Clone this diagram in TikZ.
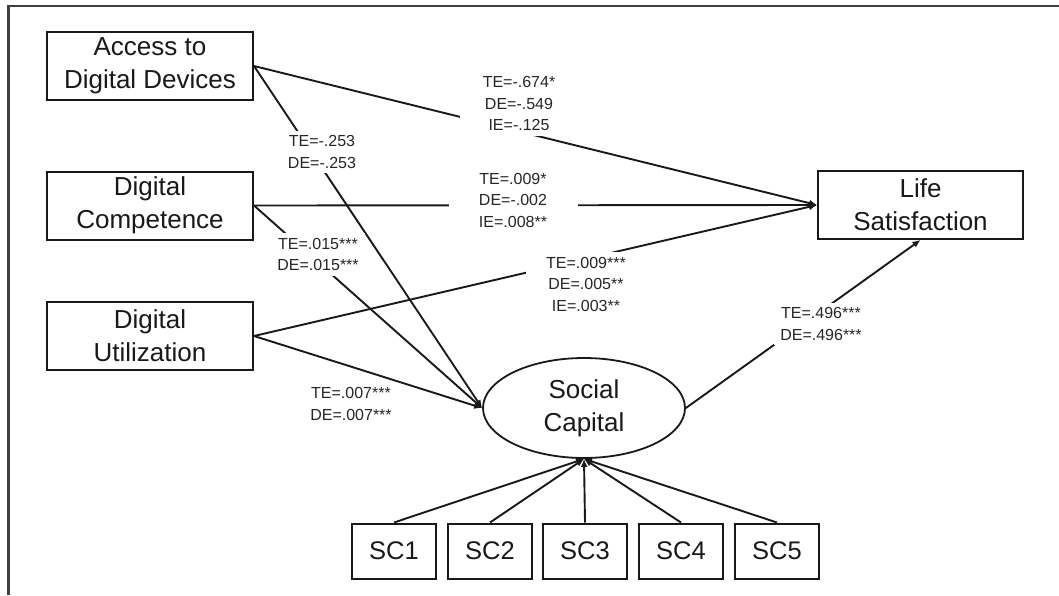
\documentclass[tikz,border=0pt]{standalone}
\usepackage{fontspec}
\setmainfont{Liberation Sans}
\usetikzlibrary{shapes.geometric,arrows.meta}
\begin{document}
\begin{tikzpicture}[x=1pt,y=-1pt,
  box/.style={draw=black!90, line width=2pt, minimum width=206pt, minimum height=68pt,
    inner sep=0pt, align=center, font=\fontsize{26}{33}\selectfont, text=black!90},
  scbox/.style={draw=black!90, line width=2pt, minimum width=84pt, minimum height=55pt,
    inner sep=0pt, font=\fontsize{25.5}{30}\selectfont, text=black!90},
  latent/.style={draw=black!90, line width=1.8pt, ellipse, minimum width=202pt, minimum height=100pt,
    inner sep=0pt, align=center, font=\fontsize{26}{33}\selectfont, text=black!90},
  lab/.style={fill=white, align=center, font=\fontsize{16}{21.5}\selectfont, text=black!85,
    inner xsep=6pt, inner ysep=5pt},
  arr/.style={line width=1.9pt, draw=black!90, -{Latex[length=8pt,width=7pt]}},
  frame/.style={line width=2.2pt, draw=black!75}
]
\useasboundingbox (0,0) rectangle (1059,595);
\draw[frame] (8.5,595) -- (8.5,6) -- (1059,6);

% nodes
\node[box] (acc) at (150,66) {Access to\\Digital Devices};
\node[box] (comp) at (150,205.5) {Digital\\Competence};
\node[box] (util) at (150,336) {Digital\\Utilization};
\node[box, minimum width=205pt] (ls) at (920.5,205) {Life\\Satisfaction};
\node[latent] (sc) at (584,408) {Social\\Capital};
\node[scbox] (sc1) at (394,551) {SC1};
\node[scbox] (sc2) at (490,551) {SC2};
\node[scbox] (sc3) at (585,551) {SC3};
\node[scbox] (sc4) at (681,551) {SC4};
\node[scbox] (sc5) at (777,551) {SC5};

% connectors
\draw[arr] (acc.east) -- (ls.west);
\draw[arr] (comp.east) -- (ls.west);
\draw[arr] (util.east) -- (ls.west);
\draw[arr] (acc.east) -- (sc.west);
\draw[arr] (comp.east) -- (sc.west);
\draw[arr] (util.east) -- (sc.west);
\draw[arr] (sc.east) -- (ls.south);
\foreach \s in {sc1,sc2,sc3,sc4,sc5}
  \draw[arr] (\s.north) -- (sc.south);

% labels
\node[lab, minimum width=118pt] (l1) at (519,103.5) {TE=-.674*\\DE=-.549\\IE=-.125};
\node[lab] (l2) at (322,152) {TE=-.253\\DE=-.253};
\node[lab, minimum width=129pt] (l3) at (513,200) {TE=.009*\\DE=-.002\\IE=.008**};
\node[lab] (l4) at (318,254.5) {TE=.015***\\DE=.015***};
\node[lab, minimum width=121pt] (l5) at (586,284) {TE=.009***\\DE=.005**\\IE=.003**};
\node[lab] (l6) at (351,404) {TE=.007***\\DE=.007***};
\node[lab] (l7) at (821,324) {TE=.496***\\DE=.496***};
\end{tikzpicture}
\end{document}
